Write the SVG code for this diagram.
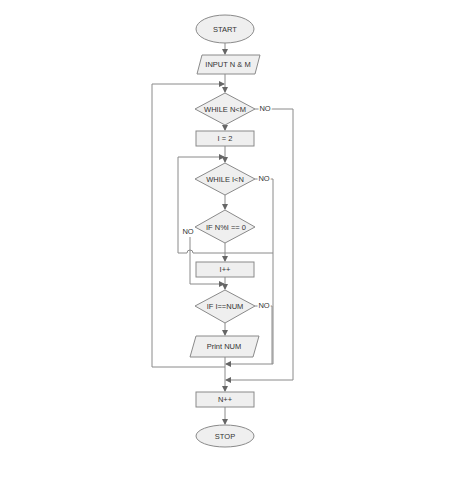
<svg xmlns="http://www.w3.org/2000/svg" width="474" height="477" viewBox="0 0 474 477">
<style>
.s{fill:#efefef;stroke:#8a8a8a;stroke-width:1}
.c{fill:none;stroke:#8a8a8a;stroke-width:1}
text{font-family:"Liberation Sans",Arial,sans-serif;font-size:7.5px;fill:#333;text-anchor:middle}
</style>
<defs><marker id="a" markerWidth="6" markerHeight="6" refX="5" refY="3" orient="auto" markerUnits="userSpaceOnUse"><path d="M0,0L6,3L0,6z" fill="#666"/></marker></defs>
<rect width="474" height="477" fill="#fff"/>
<g id="connectors">
<path class="c" d="M225,43V54" marker-end="url(#a)"/>
<path class="c" d="M225,74V92" marker-end="url(#a)"/>
<path class="c" d="M152,367V84H224" marker-end="url(#a)"/>
<path class="c" d="M225,125V130" marker-end="url(#a)"/>
<path class="c" d="M225,146V162" marker-end="url(#a)"/>
<path class="c" d="M178,253V157H224" marker-end="url(#a)"/>
<path class="c" d="M225,195V209" marker-end="url(#a)"/>
<path class="c" d="M225,243V261" marker-end="url(#a)"/>
<path class="c" d="M178,253H187a3,3 0 0 1 6,0H273"/>
<path class="c" d="M190,237V284H224" marker-end="url(#a)"/>
<path class="c" d="M225,277V289" marker-end="url(#a)"/>
<path class="c" d="M225,323V335" marker-end="url(#a)"/>
<path class="c" d="M225,357V391" marker-end="url(#a)"/>
<path class="c" d="M152,367H225"/>
<path class="c" d="M255,109H293V380H226" marker-end="url(#a)"/>
<path class="c" d="M255,179H273V364H226" marker-end="url(#a)"/>
<path class="c" d="M255,306H272V364"/>
<path class="c" d="M225,407V424" marker-end="url(#a)"/>
</g>
<g id="start"><ellipse class="s" cx="225" cy="29" rx="29" ry="14"/><text x="225" y="32">START</text></g>
<g id="input"><path class="s" d="M202,55H260L255,74H197z"/><text x="228" y="67">INPUT N &amp; M</text></g>
<g id="whileNM"><path class="s" d="M225,93L255,109L225,125L195,109z"/><text x="225" y="112">WHILE N&lt;M</text><text x="265" y="111" style="fill:#fff;stroke:#fff;stroke-width:3">NO</text><text x="265" y="111">NO</text></g>
<g id="i2"><rect class="s" x="196" y="131" width="58" height="15"/><text x="225" y="141">I = 2</text></g>
<g id="whileIN"><path class="s" d="M225,163L255,179L225,195L195,179z"/><text x="225" y="182">WHILE I&lt;N</text><text x="264" y="181" style="fill:#fff;stroke:#fff;stroke-width:3">NO</text><text x="264" y="181">NO</text></g>
<g id="ifmod"><path class="s" d="M225,210L255,227L225,243L195,227z"/><text x="226" y="230">IF N%I == 0</text><text x="188" y="234" style="fill:#fff;stroke:#fff;stroke-width:3">NO</text><text x="188" y="234">NO</text></g>
<g id="iinc"><rect class="s" x="196" y="262" width="58" height="15"/><text x="225" y="272">I++</text></g>
<g id="ifnum"><path class="s" d="M225,290L255,306L225,323L195,306z"/><text x="225" y="309">IF I==NUM</text><text x="264" y="308" style="fill:#fff;stroke:#fff;stroke-width:3">NO</text><text x="264" y="308">NO</text></g>
<g id="print"><path class="s" d="M196,336H259L253,357H190z"/><text x="224" y="349">Print NUM</text></g>
<g id="ninc"><rect class="s" x="196" y="392" width="58" height="15"/><text x="225" y="402">N++</text></g>
<g id="stop"><ellipse class="s" cx="225" cy="436" rx="29" ry="11"/><text x="225" y="439">STOP</text></g>
</svg>
